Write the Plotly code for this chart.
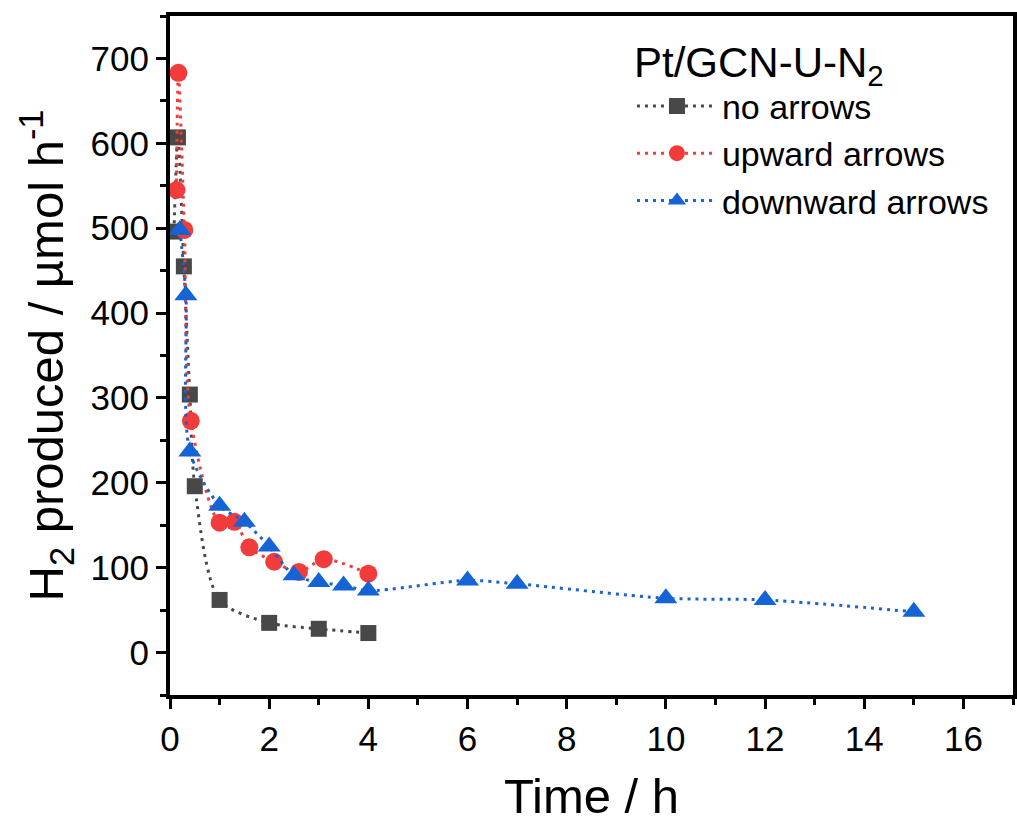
import plotly.graph_objects as go

# Hydrogen evolution of Pt/GCN-U-N2 over time for three illumination settings
t_none = [0.08, 0.16, 0.28, 0.40, 0.50, 1.0, 2.0, 3.0, 4.0]
h2_none = [496, 607, 455, 304, 196, 62, 35, 28, 23]

t_up = [0.13, 0.17, 0.29, 0.42, 1.0, 1.3, 1.6, 2.1, 2.6, 3.1, 4.0]
h2_up = [545, 683, 498, 273, 153, 154, 124, 107, 95, 110, 93]

t_down = [0.20, 0.32, 0.40, 1.0, 1.5, 2.0, 2.5, 3.0, 3.5, 4.0, 6.0, 7.0, 10.0, 12.0, 15.0]
h2_down = [498, 421, 237, 173, 154, 125, 91, 83, 79, 73, 85, 81, 64, 62, 48]

series_names = ["no arrows", "upward arrows", "downward arrows"]
colors = ["#484848", "#f23c3c", "#1564d6"]
symbols = ["square", "circle", "triangle-up"]
sizes = [16, 18, 20]

FONT = "Liberation Sans, Arial, sans-serif"

fig = go.Figure()
for (tx, hy), name, col, sym, sz in zip(
    [(t_none, h2_none), (t_up, h2_up), (t_down, h2_down)],
    series_names, colors, symbols, sizes,
):
    fig.add_trace(go.Scatter(
        x=tx, y=hy, name=name, mode="lines+markers",
        line=dict(color=col, width=3, dash="3px,5px", shape="spline", smoothing=0.8),
        marker=dict(color=col, symbol=sym, size=sz, line=dict(width=0)),
    ))

axis_common = dict(
    showline=True, mirror=True, linecolor="black", linewidth=4,
    ticks="outside", ticklen=10, tickwidth=3, tickcolor="black",
    showgrid=False, zeroline=False, automargin=False,
    tickfont=dict(family=FONT, size=35, color="black"),
)

fig.update_xaxes(
    range=[0, 17], dtick=2, tick0=0,
    minor=dict(ticks="outside", ticklen=6, tickwidth=3, tickcolor="black", dtick=1),
    title=dict(text="Time / h", font=dict(family=FONT, size=49, color="black"), standoff=39),
    **axis_common,
)
fig.update_yaxes(
    range=[-50, 750], dtick=100, tick0=0,
    minor=dict(ticks="outside", ticklen=6, tickwidth=3, tickcolor="black", dtick=50),
    title=dict(text="H<sub>2</sub> produced / µmol h<sup>-1</sup>",
               font=dict(family=FONT, size=49, color="black"), standoff=12),
    **axis_common,
)

fig.update_layout(
    width=1017, height=823,
    margin=dict(l=170, r=4, t=16, b=128),
    paper_bgcolor="white", plot_bgcolor="white",
    font=dict(family=FONT, color="black"),
    legend=dict(
        x=0.548, y=0.99, xanchor="left", yanchor="top",
        bgcolor="rgba(0,0,0,0)", borderwidth=0,
        title=dict(text="Pt/GCN-U-N<sub>2</sub>", font=dict(family=FONT, size=42, color="black")),
        font=dict(family=FONT, size=34, color="black"),
        itemwidth=80,
    ),
    showlegend=True,
)

fig.write_html("out.html")
